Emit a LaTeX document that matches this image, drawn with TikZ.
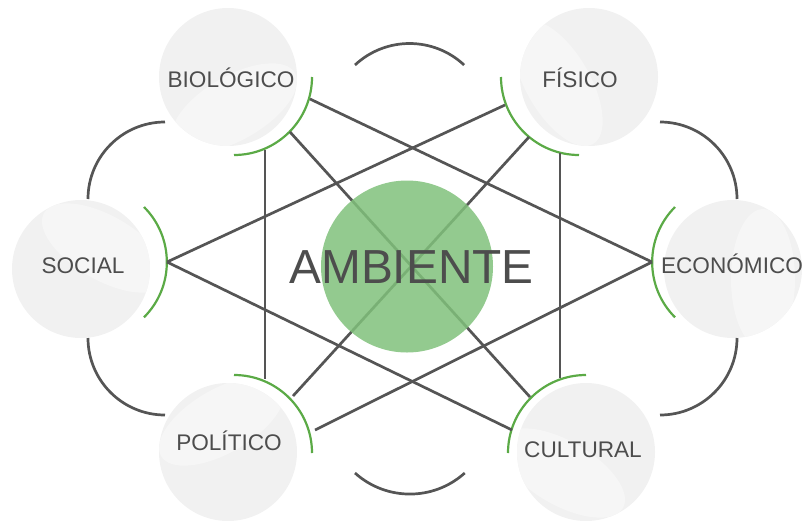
\documentclass[tikz,border=0pt]{standalone}
\usepackage{fontspec}
\setmainfont{Liberation Sans}
\definecolor{txt}{HTML}{4D4D4D}
\definecolor{ln}{HTML}{555555}
\definecolor{grn}{HTML}{5BAA46}
\definecolor{cgrn}{HTML}{80C17B}
\definecolor{bub}{HTML}{F1F1F1}
\definecolor{bubl}{HTML}{F6F6F6}
\begin{document}
\begin{tikzpicture}[x=1pt,y=-1pt,
  bubble/.style={circle,fill=bub,minimum size=138pt,inner sep=0pt},
  lbl/.style={text=txt,font=\fontsize{22.6}{26}\selectfont,anchor=base,inner sep=0pt},
  link/.style={draw=ln,line width=2.7pt},
  ring/.style={draw=ln,line width=2.7pt},
  garc/.style={draw=grn,line width=2.2pt}]
\useasboundingbox (0,0) rectangle (803,520);
% gray bubbles
\node[bubble] (bio) at (228,77) {};
\node[bubble] (fis) at (589,77) {};
\node[bubble] (soc) at (81,269) {};
\node[bubble] (eco) at (733,269) {};
\node[bubble] (pol) at (228,452) {};
\node[bubble] (cul) at (586,452) {};
% subtle swirl highlights
\foreach \c/\a in {bio/30,fis/-60,soc/150,eco/90,pol/210,cul/-30}{
  \begin{scope}
    \clip (\c) circle (69);
    \fill[bubl,rotate around={\a:(\c)}] ([xshift=-10pt,yshift=-30pt]\c) ellipse (70 and 32);
  \end{scope}
}
% labels
\node[lbl] (tbio) at (231,87) {BIOLÓGICO};
\node[lbl] (tfis) at (580,87) {FÍSICO};
\node[lbl] (tsoc) at (83,273) {SOCIAL};
\node[lbl] (teco) at (732,273) {ECONÓMICO};
\node[lbl] (tpol) at (229,450) {POLÍTICO};
\node[lbl] (tcul) at (583,457) {CULTURAL};
% outer ring arcs (y axis points down: positive angles turn downward)
\draw[ring] (355,65) arc[start angle=-133,end angle=-47,radius=80];
\draw[ring] (355,473) arc[start angle=132,end angle=48,radius=82];
\draw[ring] (165,122) arc[start angle=-90,end angle=-180,radius=77];
\draw[ring] (88,338) arc[start angle=180,end angle=90,radius=77];
\draw[ring] (660,122) arc[start angle=-90,end angle=0,radius=77];
\draw[ring] (737,338) arc[start angle=0,end angle=90,radius=77];
% green arcs
\draw[garc] (312,77) arc[start angle=0,end angle=90,radius=78];
\draw[garc] (501,77) arc[start angle=180,end angle=90,radius=78];
\draw[garc] (144,207) arc[start angle=-45,end angle=45,radius=78];
\draw[garc] (675,207) arc[start angle=225,end angle=135,radius=78];
\draw[garc] (234,375) arc[start angle=-90,end angle=0,radius=78];
\draw[garc] (586,375) arc[start angle=-90,end angle=-180,radius=78];
% connection points
\coordinate (bE) at (310,99);
\coordinate (bC) at (290,132);
\coordinate (bP) at (265,150);
\coordinate (fS) at (505,105);
\coordinate (fP) at (529,137);
\coordinate (fC) at (560,153);
\coordinate (sV) at (167,262);
\coordinate (eV) at (652,262);
\coordinate (pB) at (265,379);
\coordinate (pF) at (293,396);
\coordinate (pE) at (315,430);
\coordinate (cF) at (560,378);
\coordinate (cB) at (530,397);
\coordinate (cS) at (512,430);
% connectors
\draw[link] (bE) -- (eV);
\draw[link] (bC) -- (cB);
\draw[link] (bP) -- (pB);
\draw[link] (fS) -- (sV);
\draw[link] (fP) -- (pF);
\draw[link] (fC) -- (cF);
\draw[link] (pE) -- (eV);
\draw[link] (cS) -- (sV);
% central circle
\node[circle,fill=cgrn,fill opacity=0.85,minimum size=172pt,inner sep=0pt] (amb) at (407,266.5) {};
\node[text=txt,font=\fontsize{47.8}{50}\selectfont,anchor=base,inner sep=0pt] (tamb) at (411.5,283) {AMBIENTE};
\end{tikzpicture}
\end{document}
